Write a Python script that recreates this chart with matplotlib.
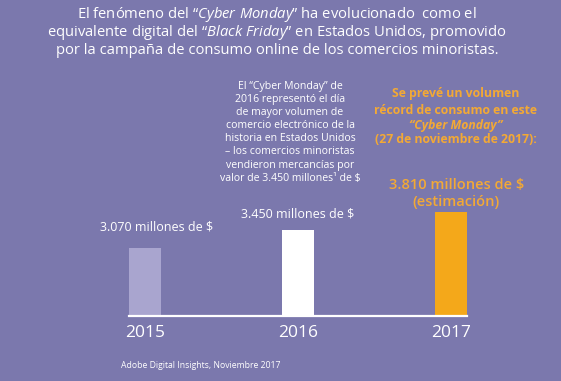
import matplotlib
matplotlib.use("Agg")
import matplotlib.pyplot as plt

# data
years = ["2015", "2016", "2017"]
values = [3070, 3450, 3810]
value_labels = ["3.070 millones de $", "3.450 millones de $", "3.810 millones de $"]
bar_colors = ["#a9a5cf", "#ffffff", "#f4a81a"]

BG = "#7b78ad"
ORANGE = "#f3a935"
W, H = 561, 381

plt.rcParams['font.family'] = ['Open Sans', 'DejaVu Sans']
plt.rcParams['mathtext.fontset'] = 'custom'
plt.rcParams['mathtext.rm'] = 'Open Sans'
plt.rcParams['mathtext.it'] = 'Open Sans:italic'

fig = plt.figure(figsize=(W / 100, H / 100), dpi=100, facecolor=BG)


def px(x, y):
    # pixel position (from top-left) to figure fraction
    return x / W, 1 - y / H


# bar axes: baseline at y=316px, bars from x=129 to 467
ax = fig.add_axes([129 / W, 65 / H, 338 / W, 246 / H])
ax.set_facecolor("none")
x = list(range(len(years)))
ax.bar(x, values, width=0.21, color=bar_colors, zorder=2)
ax.set_xlim(-0.105, 2.105)
ax.set_ylim(1672, 6729)
ax.axhline(1672, color="white", lw=1.6, zorder=3, clip_on=False)
ax.axis("off")

# year labels below the baseline
for i, yr in enumerate(years):
    ax.annotate(yr, (i, 1672), xytext=(0, -12), textcoords="offset points",
                ha="center", va="center", color="white", fontsize=12.5)

# value labels
ax.annotate(value_labels[0], (0, values[0]), xytext=(8, 15), textcoords="offset points",
            ha="center", va="center", color="white", fontsize=9)
ax.annotate(value_labels[1], (1, values[1]), xytext=(0, 11), textcoords="offset points",
            ha="center", va="center", color="white", fontsize=9)
ax.annotate(value_labels[2], (2, values[2]), xytext=(4, 19.5), textcoords="offset points",
            ha="center", va="center", color=ORANGE, fontsize=10.5, fontweight="semibold")
ax.annotate("(estimación)", (2, values[2]), xytext=(4, 7.5), textcoords="offset points",
            ha="center", va="center", color=ORANGE, fontsize=10.5, fontweight="semibold")

# title
title_lines = [
    r"El fenómeno del “$\it{Cyber\ Monday}$” ha evolucionado  como el",
    r"equivalente digital del “$\it{Black\ Friday}$” en Estados Unidos, promovido",
    "por la campaña de consumo online de los comercios minoristas.",
]
for i, line in enumerate(title_lines):
    fig.text(*px(277, 15 + i * 17.5), line, ha="center", va="center",
             color="white", fontsize=10.6)

# middle note
note_lines = [
    "El “Cyber Monday” de",
    "2016 representó el día",
    "de mayor volumen de",
    "comercio electrónico de la",
    "historia en Estados Unidos",
    "– los comercios minoristas",
    "vendieron mercancías por",
    "valor de 3.450 millones¹ de $",
]
for i, line in enumerate(note_lines):
    fig.text(*px(290, 86 + i * 13.2), line, ha="center", va="center",
             color="white", fontsize=7.6)

# orange forecast note
fig.text(*px(456, 93), "Se prevé un volumen", ha="center", va="center",
         color=ORANGE, fontsize=8.8, fontweight="bold")
fig.text(*px(456, 110), "récord de consumo en este", ha="center", va="center",
         color=ORANGE, fontsize=8.8, fontweight="bold")
fig.text(*px(456, 125), "“Cyber Monday”", ha="center", va="center",
         color=ORANGE, fontsize=8.8, fontweight="bold", style="italic")
fig.text(*px(456, 140), "(27 de noviembre de 2017):", ha="center", va="center",
         color=ORANGE, fontsize=8.8, fontweight="bold")

# source
fig.text(*px(201, 366), "Adobe Digital Insights, Noviembre 2017", ha="center",
         va="center", color="white", fontsize=6.2)

fig.savefig("out.png", dpi=100, facecolor=BG)
